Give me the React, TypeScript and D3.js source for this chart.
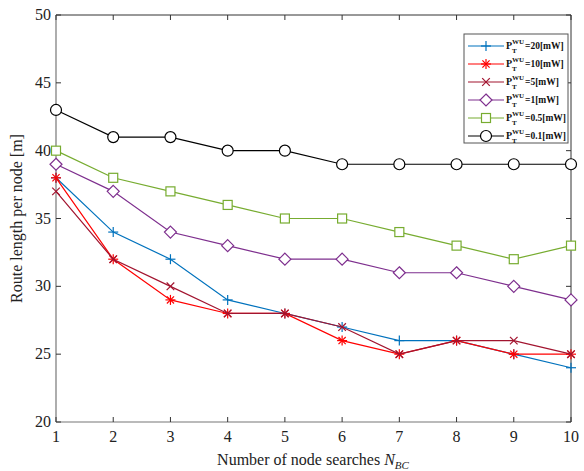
import React from "react";
import * as d3 from "d3";

const xValues = [1, 2, 3, 4, 5, 6, 7, 8, 9, 10];
const yTicks = [20, 25, 30, 35, 40, 45, 50];

const p20 = [38, 34, 32, 29, 28, 27, 26, 26, 25, 24];
const p10 = [38, 32, 29, 28, 28, 26, 25, 26, 25, 25];
const p5 = [37, 32, 30, 28, 28, 27, 25, 26, 26, 25];
const p1 = [39, 37, 34, 33, 32, 32, 31, 31, 30, 29];
const p05 = [40, 38, 37, 36, 35, 35, 34, 33, 32, 33];
const p01 = [43, 41, 41, 40, 40, 39, 39, 39, 39, 39];

const series = [
  { label: "=20[mW]", values: p20, color: "#0072BD", marker: "plus" },
  { label: "=10[mW]", values: p10, color: "#FF0000", marker: "star" },
  { label: "=5[mW]", values: p5, color: "#A2142F", marker: "cross" },
  { label: "=1[mW]", values: p1, color: "#7E2F8E", marker: "diamond" },
  { label: "=0.5[mW]", values: p05, color: "#77AC30", marker: "square" },
  { label: "=0.1[mW]", values: p01, color: "#000000", marker: "circle" },
];

const W = 584;
const H = 471;
const m = { left: 56, right: 571, top: 15, bottom: 422 };
const font = "'Liberation Serif', 'Times New Roman', serif";

function Marker({ type, x, y, color }: { type: string; x: number; y: number; color: string }) {
  const s = 5;
  switch (type) {
    case "plus":
      return (
        <g stroke={color} strokeWidth={1.2}>
          <line x1={x - s} x2={x + s} y1={y} y2={y} />
          <line x1={x} x2={x} y1={y - s} y2={y + s} />
        </g>
      );
    case "star":
      return (
        <g stroke={color} strokeWidth={1.2}>
          <line x1={x - s} x2={x + s} y1={y} y2={y} />
          <line x1={x} x2={x} y1={y - s} y2={y + s} />
          <line x1={x - 3.6} x2={x + 3.6} y1={y - 3.6} y2={y + 3.6} />
          <line x1={x - 3.6} x2={x + 3.6} y1={y + 3.6} y2={y - 3.6} />
        </g>
      );
    case "cross":
      return (
        <g stroke={color} strokeWidth={1.2}>
          <line x1={x - 3.8} x2={x + 3.8} y1={y - 3.8} y2={y + 3.8} />
          <line x1={x - 3.8} x2={x + 3.8} y1={y + 3.8} y2={y - 3.8} />
        </g>
      );
    case "diamond":
      return (
        <path
          d={`M${x},${y - 6}L${x + 6},${y}L${x},${y + 6}L${x - 6},${y}Z`}
          fill="white"
          stroke={color}
          strokeWidth={1.2}
        />
      );
    case "square":
      return <rect x={x - 4.5} y={y - 4.5} width={9} height={9} fill="white" stroke={color} strokeWidth={1.2} />;
    default:
      return <circle cx={x} cy={y} r={5.5} fill="white" stroke={color} strokeWidth={1.2} />;
  }
}

export default function App() {
  const x = d3.scaleLinear().domain([1, 10]).range([m.left, m.right]);
  const y = d3.scaleLinear().domain([20, 50]).range([m.bottom, m.top]);
  const lineGen = d3
    .line<number>()
    .x((_, i) => x(xValues[i]))
    .y((d) => y(d));

  const legX = 464;
  const legY = 34;
  const legW = 104;
  const legH = 109;
  const rowH = 18;

  return (
    <svg width={W} height={H} style={{ position: "absolute", left: 0, top: 0 }} fontFamily={font}>
      <rect width={W} height={H} fill="white" />
      {/* axes box */}
      <line x1={m.left} x2={m.right} y1={m.top} y2={m.top} stroke="#333" />
      <line x1={m.right} x2={m.right} y1={m.top} y2={m.bottom} stroke="#333" />
      <line x1={m.left} x2={m.left} y1={m.top} y2={m.bottom} stroke="#777" strokeWidth={1.2} />
      <line x1={m.left} x2={m.right} y1={m.bottom} y2={m.bottom} stroke="#777" strokeWidth={1.2} />

      {xValues.map((v) => (
        <g key={"x" + v}>
          <line x1={x(v)} x2={x(v)} y1={m.bottom} y2={m.bottom - 5} stroke="#333" />
          <line x1={x(v)} x2={x(v)} y1={m.top} y2={m.top + 5} stroke="#333" />
          <text x={x(v)} y={m.bottom + 20} textAnchor="middle" fontSize={16} fill="#222">
            {v}
          </text>
        </g>
      ))}
      {yTicks.map((v) => (
        <g key={"y" + v}>
          <line x1={m.left} x2={m.left + 5} y1={y(v)} y2={y(v)} stroke="#333" />
          <line x1={m.right} x2={m.right - 5} y1={y(v)} y2={y(v)} stroke="#333" />
          <text x={m.left - 5} y={y(v) + 5} textAnchor="end" fontSize={16} fill="#222">
            {v}
          </text>
        </g>
      ))}

      <text x={313} y={465} textAnchor="middle" fontSize={16} fill="#222">
        Number of node searches <tspan fontStyle="italic">N</tspan>
        <tspan fontStyle="italic" fontSize={11} dy={4}>BC</tspan>
      </text>
      <text
        transform={`translate(22,${(m.top + m.bottom) / 2}) rotate(-90)`}
        textAnchor="middle"
        fontSize={16}
        fill="#222"
      >
        Route length per node [m]
      </text>

      {series.map((s) => (
        <g key={s.label}>
          <path d={lineGen(s.values) || ""} fill="none" stroke={s.color} strokeWidth={1.2} />
          {s.values.map((v, i) => (
            <Marker key={i} type={s.marker} x={x(xValues[i])} y={y(v)} color={s.color} />
          ))}
        </g>
      ))}

      {/* legend */}
      <rect x={legX} y={legY} width={legW} height={legH} fill="white" stroke="#555" />
      {series.map((s, i) => {
        const cy = legY + 12 + i * rowH;
        return (
          <g key={"leg" + s.label} fontWeight="bold" fill="#111">
            <line x1={legX + 4} x2={legX + 40} y1={cy} y2={cy} stroke={s.color} strokeWidth={1.2} />
            <Marker type={s.marker} x={legX + 22} y={cy} color={s.color} />
            <text x={legX + 42} y={cy + 3} fontSize={10}>P</text>
            <text x={legX + 48} y={cy - 2} fontSize={7}>WU</text>
            <text x={legX + 48} y={cy + 7} fontSize={7}>T</text>
            <text x={legX + 61} y={cy + 3} fontSize={9.5}>{s.label}</text>
          </g>
        );
      })}
    </svg>
  );
}
